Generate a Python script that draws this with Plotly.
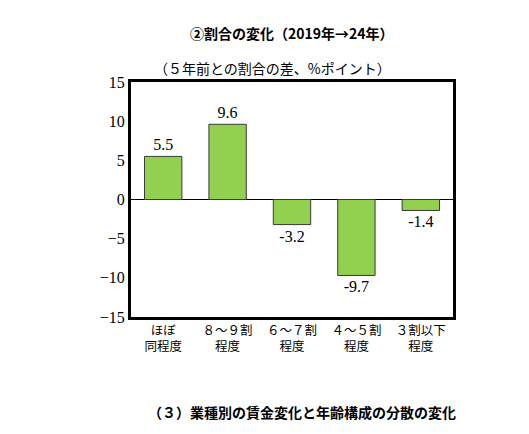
import plotly.graph_objects as go

categories = ["ほぼ<br>同程度", "８～９割<br>程度", "６～７割<br>程度", "４～５割<br>程度", "３割以下<br>程度"]
values = [5.5, 9.6, -3.2, -9.7, -1.4]
labels = ["5.5", "9.6", "-3.2", "-9.7", "-1.4"]
yticks = [15, 10, 5, 0, -5, -10, -15]
yticktext = ["15", "10", "5", "0", "−5", "−10", "−15"]

fig = go.Figure(go.Bar(
    x=categories, y=values, width=0.58,
    marker=dict(color="#92D050", line=dict(color="#3a3a3a", width=1)),
    text=labels, textposition="outside",
    textfont=dict(family="Liberation Serif, Noto Sans CJK JP", size=16, color="black"),
    cliponaxis=False,
))
fig.update_layout(
    width=529, height=434, plot_bgcolor="white", paper_bgcolor="white",
    margin=dict(l=123, r=84, t=74, b=125), showlegend=False,
    font=dict(family="Noto Sans CJK JP", size=13, color="black"),
    annotations=[
        dict(text="<b>②割合の変化（2019年→24年）</b>", x=0.5, xref="paper", y=1.21, yanchor="middle", yref="paper", showarrow=False, font=dict(size=14)),
        dict(text="（５年前との割合の差、%ポイント）", x=0.44, xref="paper", y=1.06, yanchor="middle", yref="paper", showarrow=False, font=dict(size=14)),
        dict(text="<b>（３）業種別の賃金変化と年齢構成の分散の変化</b>", x=0.53, xref="paper", y=-0.404, yanchor="middle", yref="paper", showarrow=False, font=dict(size=14)),
    ],
)
fig.update_yaxes(range=[-15, 15], tickvals=yticks, ticktext=yticktext, showgrid=False,
                 zeroline=True, zerolinecolor="black", zerolinewidth=1,
                 showline=True, linecolor="black", linewidth=3, mirror=True,
                 ticks="", tickfont=dict(family="Liberation Serif, Noto Sans CJK JP", size=16))
fig.update_xaxes(showline=True, linecolor="black", linewidth=3, mirror=True,
                 tickfont=dict(size=12.5), ticks="")
fig.write_html("out.html")
